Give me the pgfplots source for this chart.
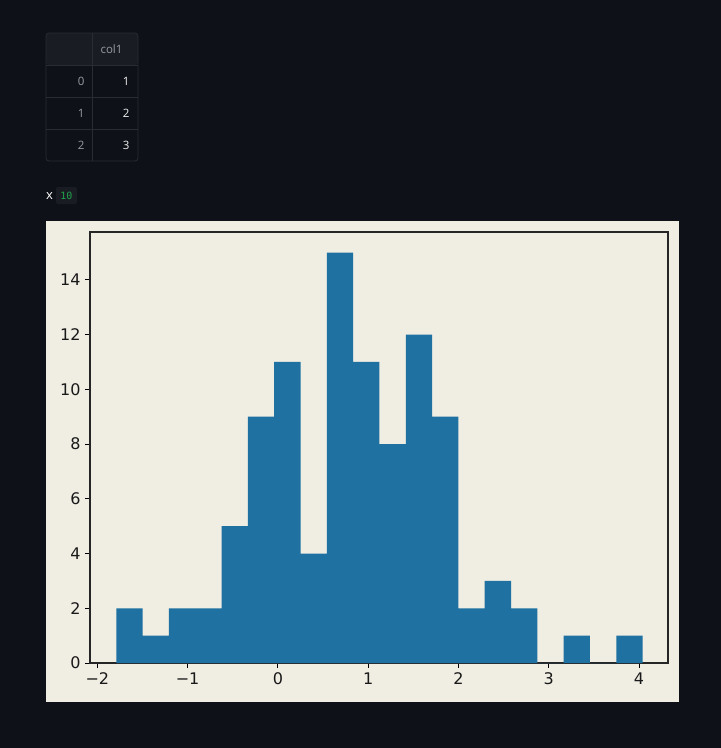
\documentclass[border=0pt]{standalone}
\usepackage{pgfplots}
\pgfplotsset{compat=1.18}
\usepackage{fontspec}
\setmainfont{DejaVu Sans}
\newfontfamily\uifont{Open Sans}
\newfontfamily\codefont{DejaVu Sans Mono}
\definecolor{pagebg}{HTML}{0E1117}
\definecolor{figbg}{HTML}{F0EDE3}
\definecolor{histblue}{HTML}{1F71A1}
\definecolor{gridline}{HTML}{2A2C34}
\definecolor{headbg}{HTML}{1A1C23}
\definecolor{dimtext}{HTML}{9A9CA4}
\definecolor{codegreen}{HTML}{21A34A}

\begin{document}
\begin{tikzpicture}[x=1pt,y=1pt]
% page and figure backgrounds
\fill[pagebg] (0,0) rectangle (721,-748);
\path[use as bounding box] (0,0) rectangle (721,-748);
\fill[figbg] (46,-221) rectangle (679,-702);

% small dataframe
\fill[headbg, rounded corners=3pt] (46,-33) rectangle (138,-65);
\draw[gridline, line width=0.8pt, rounded corners=3pt] (46,-33) rectangle (138,-161);
\draw[gridline, line width=0.8pt] (92,-33) -- (92,-161);
\foreach \yy in {65,97,129} \draw[gridline, line width=0.8pt] (46,-\yy) -- (138,-\yy);
\node[anchor=west, text=dimtext, font=\uifont\fontsize{11.5}{13}\selectfont] at (97,-49) {col1};
\foreach \i/\v/\yy in {0/1/81,1/2/113,2/3/145} {
  \node[anchor=east, text=dimtext, font=\uifont\fontsize{11.5}{13}\selectfont] at (88,-\yy) {\i};
  \node[anchor=east, text=white!95!black, font=\uifont\fontsize{11.5}{13}\selectfont] at (133,-\yy) {\v};
}

% x = 10 widget
\node[anchor=west, text=white, inner sep=0pt, font=\uifont\fontsize{13}{15}\selectfont] at (46,-196) {x};
\fill[headbg, rounded corners=2pt] (56,-187) rectangle (77,-204);
\node[text=codegreen, inner sep=0pt, font=\codefont\fontsize{10}{12}\selectfont] at (66.5,-195.5) {10};

\begin{axis}[
  at={(90pt,-663pt)}, anchor=south west,
  scale only axis, width=578pt, height=431pt,
  xmin=-2.0815, xmax=4.3215, ymin=0, ymax=15.75,
  axis line style={black!85, line width=1.2pt},
  tick style={black, line width=0.9pt},
  major tick length=5pt, tick align=outside,
  xtick pos=bottom, ytick pos=left,
  xtick={-2,-1,0,1,2,3,4},
  xticklabels={−2,−1,0,1,2,3,4},
  ytick={0,2,4,6,8,10,12,14},
  yticklabels={0,2,4,6,8,10,12,14},
  tick label style={font=\fontsize{16}{19}\selectfont, text=black!90},
  yticklabel style={xshift=-1pt},
  xticklabel style={yshift=-1pt},
  clip=false,
]
\addplot[ybar interval, fill=histblue, draw=none] coordinates {
(-1.7900,2) (-1.4985,1) (-1.2070,2) (-0.9155,2) (-0.6240,5)
(-0.3325,9) (-0.0410,11) (0.2505,4) (0.5420,15) (0.8335,11)
(1.1250,8) (1.4165,12) (1.7080,9) (1.9995,2) (2.2910,3)
(2.5825,2) (2.8740,0) (3.1655,1) (3.4570,0) (3.7485,1)
(4.0400,1)
};
\end{axis}
\end{tikzpicture}
\end{document}
